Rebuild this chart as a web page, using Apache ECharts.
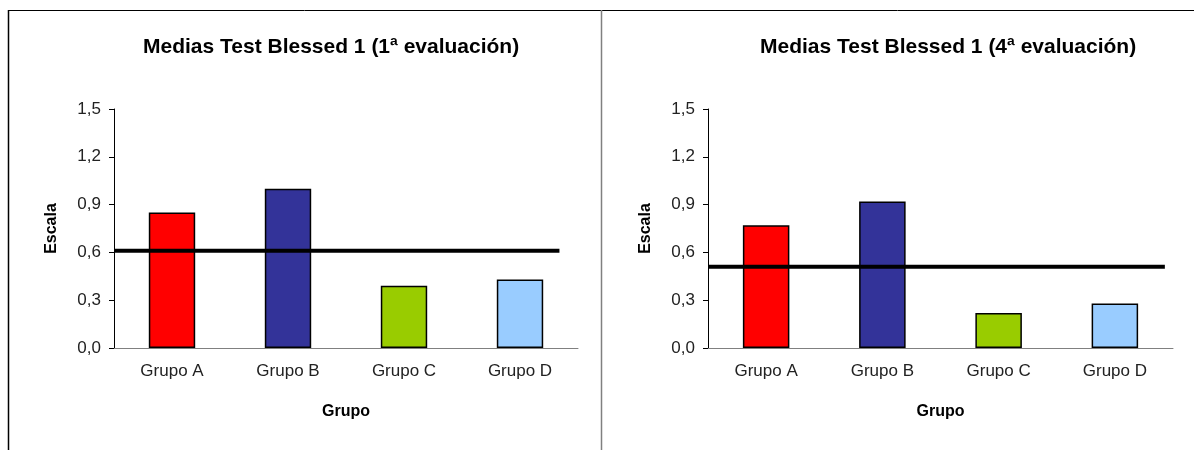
<!DOCTYPE html>
<html>
<head>
<meta charset="utf-8">
<script src="https://cdn.jsdelivr.net/npm/echarts@6/dist/echarts.min.js"></script>
<style>
  html, body {margin: 0; padding: 0; background: #fff;}
  #main {width: 1194px; height: 450px;}
</style>
</head>
<body>
<div id="main"></div>
<script>
const categories = ['Grupo A', 'Grupo B', 'Grupo C', 'Grupo D'];
const colors = ['#FF0000', '#333399', '#99CC00', '#99CCFF'];
const eval1 = [0.85, 1.0, 0.39, 0.43];
const eval4 = [0.77, 0.92, 0.22, 0.28];
// media general y hasta donde llega la linea (en unidades de categoria)
const mean1 = [[0, 0.61], [3.84, 0.61]];
const mean4 = [[0, 0.51], [3.93, 0.51]];
const titles = ['Medias Test Blessed 1 (1ª evaluación)', 'Medias Test Blessed 1 (4ª evaluación)'];

const font = 'Liberation Sans, Arial, sans-serif';
const chart = echarts.init(document.getElementById('main'));

const catAxis = (gi) => ({
  type: 'category',
  gridIndex: gi,
  data: categories,
  name: 'Grupo',
  nameLocation: 'middle',
  nameGap: 56,
  nameTextStyle: {fontFamily: font, fontWeight: 'bold', fontSize: 16, color: '#000'},
  axisLine: {lineStyle: {color: '#808080', width: 1}},
  axisTick: {length: 5, lineStyle: {color: '#808080'}},
  axisLabel: {fontFamily: font, fontSize: 17, color: '#222', margin: 15}
});
const lineAxis = (gi) => ({
  type: 'value', gridIndex: gi, min: 0, max: 4, show: false
});
const valAxis = (gi) => ({
  type: 'value',
  gridIndex: gi,
  min: 0, max: 1.5, interval: 0.3,
  name: 'Escala',
  nameLocation: 'middle',
  nameGap: 54,
  nameRotate: 90,
  nameTextStyle: {fontFamily: font, fontWeight: 'bold', fontSize: 16, color: '#000'},
  axisLine: {show: true, lineStyle: {color: '#000', width: 1}},
  axisTick: {show: true, length: 5, lineStyle: {color: '#000'}},
  splitLine: {show: false},
  axisLabel: {
    fontFamily: font, fontSize: 17, color: '#222', margin: 13,
    formatter: v => v.toFixed(1).replace('.', ',')
  }
});

const barSeries = (gi, data) => ({
  type: 'bar',
  xAxisIndex: gi * 2, yAxisIndex: gi,
  barWidth: '40%',
  data: data.map((v, i) => ({value: v, itemStyle: {color: colors[i]}})),
  itemStyle: {borderColor: '#000', borderWidth: 1.5},
  silent: true
});
const meanSeries = (gi, data) => ({
  type: 'line',
  xAxisIndex: gi * 2 + 1, yAxisIndex: gi,
  data: data,
  symbol: 'none',
  lineStyle: {color: '#000', width: 4},
  z: 5,
  silent: true
});

chart.setOption({
  animation: false,
  title: titles.map((t, i) => ({
    text: t,
    left: i === 0 ? 138 : 755,
    top: 32,
    textStyle: {fontFamily: font, fontWeight: 'bold', fontSize: 21, color: '#000'}
  })),
  grid: [
    {left: 114, right: 616, top: 109, bottom: 102},
    {left: 708, right: 21, top: 109, bottom: 102}
  ],
  xAxis: [catAxis(0), lineAxis(0), catAxis(1), lineAxis(1)],
  yAxis: [valAxis(0), valAxis(1)],
  series: [
    barSeries(0, eval1), meanSeries(0, mean1),
    barSeries(1, eval4), meanSeries(1, mean4)
  ],
  graphic: [
    {type: 'line', shape: {x1: 8, y1: 10.5, x2: 1194, y2: 10.5}, style: {stroke: '#000', lineWidth: 1}},
    {type: 'line', shape: {x1: 8.5, y1: 10, x2: 8.5, y2: 450}, style: {stroke: '#000', lineWidth: 1.5}},
    {type: 'line', shape: {x1: 601.5, y1: 10, x2: 601.5, y2: 450}, style: {stroke: '#808080', lineWidth: 1.5}}
  ]
});
</script>
</body>
</html>
